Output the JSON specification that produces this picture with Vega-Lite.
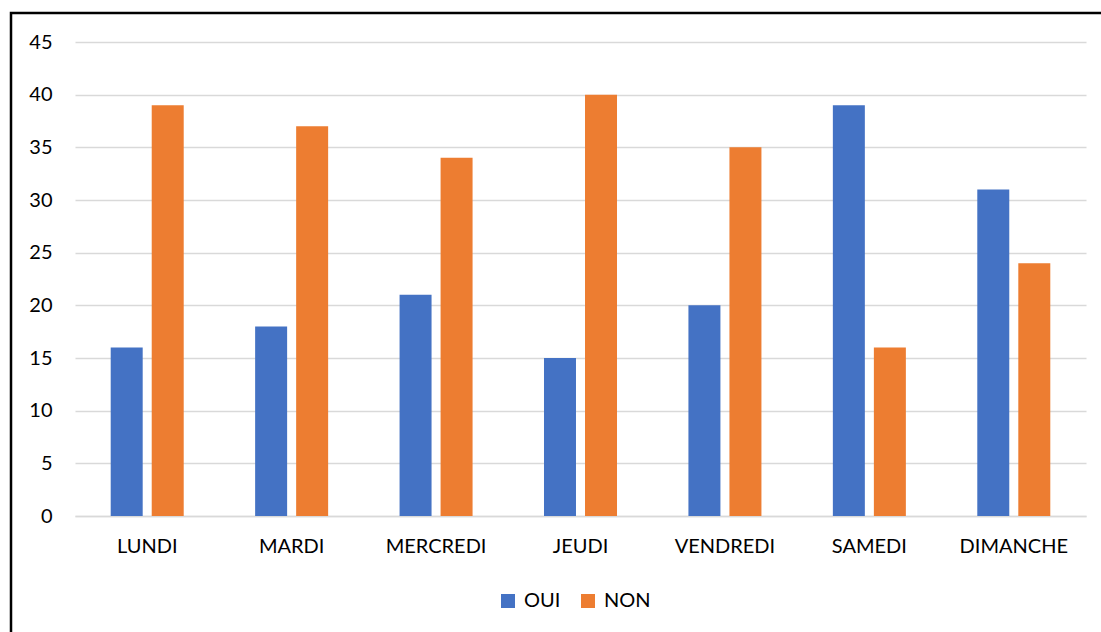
{
  "$schema": "https://vega.github.io/schema/vega-lite/v6.json",
  "autosize": {"type": "none"},
  "padding": {"left": 11, "top": 13, "right": 0, "bottom": 0},
  "width": 1100,
  "height": 629,
  "background": "white",
  "data": {
    "values": [
      {"jour": "LUNDI", "reponse": "OUI", "valeur": 16},
      {"jour": "LUNDI", "reponse": "NON", "valeur": 39},
      {"jour": "MARDI", "reponse": "OUI", "valeur": 18},
      {"jour": "MARDI", "reponse": "NON", "valeur": 37},
      {"jour": "MERCREDI", "reponse": "OUI", "valeur": 21},
      {"jour": "MERCREDI", "reponse": "NON", "valeur": 34},
      {"jour": "JEUDI", "reponse": "OUI", "valeur": 15},
      {"jour": "JEUDI", "reponse": "NON", "valeur": 40},
      {"jour": "VENDREDI", "reponse": "OUI", "valeur": 20},
      {"jour": "VENDREDI", "reponse": "NON", "valeur": 35},
      {"jour": "SAMEDI", "reponse": "OUI", "valeur": 39},
      {"jour": "SAMEDI", "reponse": "NON", "valeur": 16},
      {"jour": "DIMANCHE", "reponse": "OUI", "valeur": 31},
      {"jour": "DIMANCHE", "reponse": "NON", "valeur": 24}
    ]
  },
  "mark": {"type": "bar"},
  "encoding": {
    "x": {
      "field": "jour",
      "type": "nominal",
      "sort": ["LUNDI", "MARDI", "MERCREDI", "JEUDI", "VENDREDI", "SAMEDI", "DIMANCHE"],
      "scale": {"range": [64, 1075], "paddingInner": 0.4945, "paddingOuter": 0.2472},
      "axis": {
        "title": null,
        "orient": "bottom",
        "offset": -126,
        "labelAngle": 0,
        "ticks": false,
        "domain": true,
        "domainColor": "#d9d9d9",
        "domainWidth": 1.5,
        "labelPadding": 20,
        "grid": false
      }
    },
    "xOffset": {
      "field": "reponse",
      "type": "nominal",
      "sort": ["OUI", "NON"],
      "scale": {"paddingInner": 0.22, "paddingOuter": 0}
    },
    "y": {
      "field": "valeur",
      "type": "quantitative",
      "scale": {"domain": [0, 45], "range": [503, 29], "nice": false},
      "axis": {
        "title": null,
        "offset": -64,
        "values": [0, 5, 10, 15, 20, 25, 30, 35, 40, 45],
        "ticks": false,
        "domain": false,
        "grid": true,
        "gridColor": "#d9d9d9",
        "gridWidth": 1.3,
        "labelPadding": 23
      }
    },
    "color": {
      "field": "reponse",
      "type": "nominal",
      "sort": ["OUI", "NON"],
      "scale": {"domain": ["OUI", "NON"], "range": ["#4472C4", "#ED7D31"]},
      "legend": {
        "title": null,
        "orient": "none",
        "legendX": 487,
        "legendY": 578,
        "direction": "horizontal",
        "symbolType": "square",
        "symbolSize": 196,
        "symbolStrokeWidth": 0,
        "symbolOpacity": 1,
        "labelOffset": 6,
        "columnPadding": 17,
        "padding": 0
      }
    }
  },
  "config": {
    "view": {"stroke": "black", "strokeWidth": 2.5},
    "font": "Lato",
    "axis": {"labelFont": "Lato", "labelFontSize": 20, "labelColor": "#000000"},
    "legend": {"labelFont": "Lato", "labelFontSize": 20, "labelColor": "#000000"}
  }
}
